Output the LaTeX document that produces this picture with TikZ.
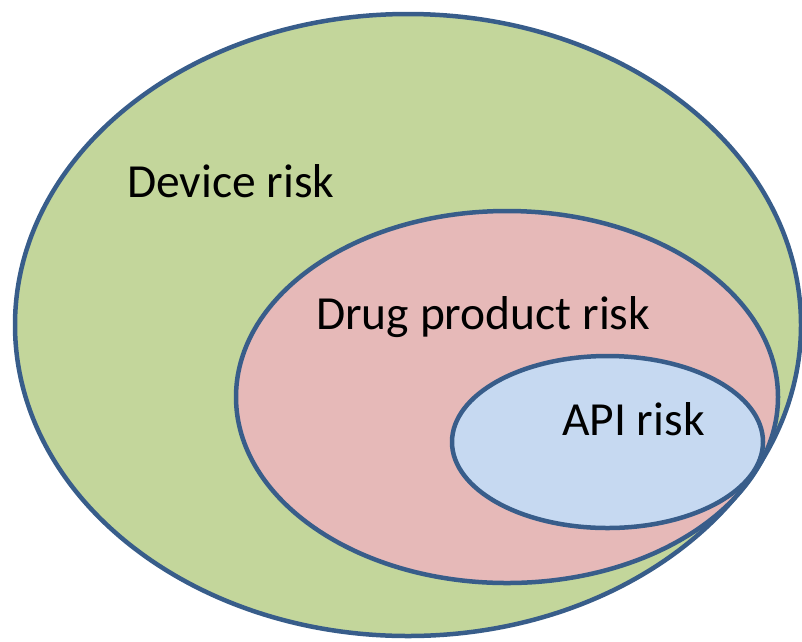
\documentclass[tikz,border=0pt]{standalone}
\usepackage{fontspec}
\setmainfont{Carlito}
\usetikzlibrary{shapes.geometric}
\definecolor{edgeblue}{HTML}{385D8A}
\definecolor{devgreen}{HTML}{C3D69B}
\definecolor{drugpink}{HTML}{E6B9B8}
\definecolor{apiblue}{HTML}{C6D9F1}
\tikzset{
  riskset/.style={ellipse, draw=edgeblue, line width=4.5pt, inner sep=0pt},
  risklabel/.style={anchor=base west, inner sep=0pt, font=\fontsize{47.5}{57}\selectfont, text=black}
}
\begin{document}
\begin{tikzpicture}[x=1pt,y=-1pt]
\useasboundingbox (0,0) rectangle (802,641);
\node[riskset, fill=devgreen, minimum width=786pt, minimum height=622pt] (device) at (408,325) {};
\node[riskset, fill=drugpink, minimum width=542pt, minimum height=372pt] (drug) at (507,397) {};
\node[riskset, fill=apiblue, minimum width=311pt, minimum height=172pt] (api) at (607.5,442) {};
\node[risklabel] (devlabel) at (127,197) {Device risk};
\node[risklabel] (druglabel) at (316,329) {Drug product risk};
\node[risklabel] (apilabel) at (562,435) {API risk};
\end{tikzpicture}
\end{document}
